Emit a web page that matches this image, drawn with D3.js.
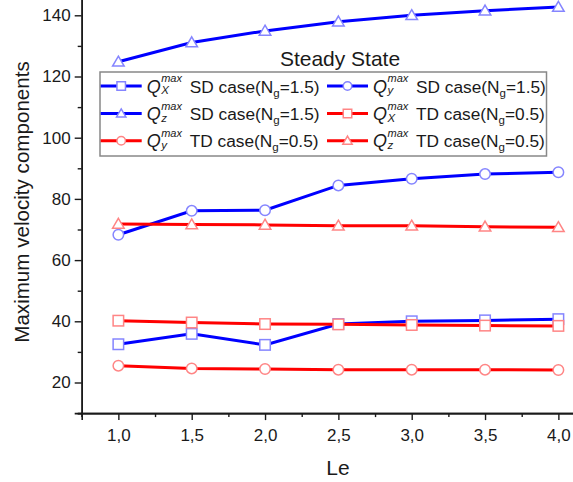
<!DOCTYPE html>
<html><head><meta charset="utf-8">
<script src="https://cdn.jsdelivr.net/npm/d3@7"></script>
<style>body{margin:0;background:#fff}svg{display:block}text{font-family:Arial,"Liberation Sans",sans-serif;fill:#1a1a1a}</style>
</head><body><svg id="c" width="573" height="482"></svg>
<script>
const le = [1.0, 1.5, 2.0, 2.5, 3.0, 3.5, 4.0];
const qxSD = [32.5, 35.9, 32.3, 39.1, 40.0, 40.3, 40.7];
const qySD = [68.3, 76.1, 76.3, 84.4, 86.6, 88.1, 88.7];
const qzSD = [124.8, 131.1, 134.9, 137.9, 140.0, 141.5, 142.7];
const qxTD = [40.2, 39.6, 39.1, 39.0, 38.8, 38.6, 38.5];
const qyTD = [25.5, 24.6, 24.4, 24.2, 24.2, 24.2, 24.1];
const qzTD = [71.8, 71.6, 71.5, 71.2, 71.2, 70.9, 70.7];
const xTicks = [1.0, 1.5, 2.0, 2.5, 3.0, 3.5, 4.0];
const xTickLabels = ["1,0", "1,5", "2,0", "2,5", "3,0", "3,5", "4,0"];
const yTicks = [20, 40, 60, 80, 100, 120, 140];
const seriesNames = ["X", "y", "z", "X", "y", "z"];
const seriesCase = ["SD case(N", "SD case(N", "SD case(N", "TD case(N", "TD case(N", "TD case(N"];
const seriesNg = ["=1.5)", "=1.5)", "=1.5)", "=0.5)", "=0.5)", "=0.5)"];
const seriesShape = ["square", "circle", "triangle", "square", "circle", "triangle"];
const seriesGroup = ["SD", "SD", "SD", "TD", "TD", "TD"];
const seriesData = [qxSD, qySD, qzSD, qxTD, qyTD, qzTD];

const svg = d3.select("#c");
const x = d3.scaleLinear().domain([0.75, 4.25]).range([81.7, 81.7 + 3.5 * 146.67]);
const y = d3.scaleLinear().domain([10, 150]).range([413.1, 413.1 - 140 * 3.06]);
const lineCol = {SD: "#0000ff", TD: "#ff0000"};
const markCol = {SD: "#8585ff", TD: "#ff8585"};

// axes
const gx = svg.append("g").attr("transform", `translate(0,${y(10)})`);
gx.call(d3.axisBottom(x).tickValues(xTicks).tickFormat((d, i) => xTickLabels[i]).tickSize(7).tickPadding(9));
gx.append("g").call(d3.axisBottom(x).tickValues([0.75,1.25,1.75,2.25,2.75,3.25,3.75,4.25]).tickFormat("").tickSize(4));
const gy = svg.append("g").attr("transform", `translate(${x(0.75)},0)`);
gy.call(d3.axisLeft(y).tickValues(yTicks).tickSize(7).tickPadding(4));
gy.append("g").call(d3.axisLeft(y).tickValues([10,30,50,70,90,110,130,150]).tickFormat("").tickSize(4));
svg.selectAll(".domain").attr("stroke", "#1a1a1a").attr("stroke-width", 1.6);
svg.selectAll(".tick line").attr("stroke", "#1a1a1a").attr("stroke-width", 1.4);
svg.selectAll(".tick text").attr("font-size", 17).attr("fill", "#1a1a1a").attr("font-family", "Arial, 'Liberation Sans', sans-serif");

// axis titles
svg.append("text").attr("x", 338).attr("y", 475).attr("text-anchor", "middle").attr("font-size", 21).text("Le");
svg.append("text").attr("transform", "translate(29,202) rotate(-90)").attr("text-anchor", "middle").attr("font-size", 20.6).text("Maximum velocity components");

// markers
function marker(g, shape, cx, cy, s, col) {
  if (shape === "square") g.append("rect").attr("x", cx - s/2).attr("y", cy - s/2).attr("width", s).attr("height", s).attr("fill", "#fff").attr("stroke", col).attr("stroke-width", 1.5);
  else if (shape === "circle") g.append("circle").attr("cx", cx).attr("cy", cy).attr("r", s/2).attr("fill", "#fff").attr("stroke", col).attr("stroke-width", 1.5);
  else {
    const h = s * 0.9;
    g.append("path").attr("d", `M${cx},${cy - h*0.6}L${cx + s*0.55},${cy + h*0.45}L${cx - s*0.55},${cy + h*0.45}Z`).attr("fill", "#fff").attr("stroke", col).attr("stroke-width", 1.5);
  }
}

const plot = svg.append("g");
const line = d3.line().x((d, i) => x(le[i])).y(d => y(d));
seriesData.forEach((data, k) => {
  const grp = seriesGroup[k];
  const g = plot.append("g");
  g.append("path").attr("d", line(data)).attr("fill", "none").attr("stroke", lineCol[grp]).attr("stroke-width", 3);
  data.forEach((v, i) => marker(g, seriesShape[k], x(le[i]), y(v), 10.5, markCol[grp]));
});

// legend
svg.append("text").attr("x", 340).attr("y", 66).attr("text-anchor", "middle").attr("font-size", 21).text("Steady State");
const lg = svg.append("g");
lg.append("rect").attr("x", 100).attr("y", 72).attr("width", 446.5).attr("height", 84).attr("fill", "#fff").attr("stroke", "#888").attr("stroke-width", 1.5);
const rowY = [92.5, 120, 147.2];
const colX = [100.7, 327];
seriesData.forEach((data, k) => {
  const col = k % 2, row = Math.floor(k / 2);
  const x0 = colX[col], by = rowY[row], cy = by - 6.5;
  const grp = seriesGroup[k];
  lg.append("line").attr("x1", x0).attr("x2", x0 + 41).attr("y1", cy).attr("y2", cy).attr("stroke", lineCol[grp]).attr("stroke-width", 3);
  marker(lg, seriesShape[k], x0 + 20.5, cy, 8.5, markCol[grp]);
  const tx = x0 + 46;
  const q = lg.append("text").attr("x", tx).attr("y", by).attr("font-size", 18).attr("font-style", "italic").text("Q");
  const qW = q.node().getComputedTextLength();
  lg.append("text").attr("x", tx + qW + 0.5).attr("y", by - 10.5).attr("font-size", 11).attr("font-style", "italic").text("max");
  lg.append("text").attr("x", tx + qW + 0.5).attr("y", by + 1.5).attr("font-size", 11.5).attr("font-style", "italic").text(seriesNames[k]);
  const t = lg.append("text").attr("x", x0 + 89).attr("y", by).attr("font-size", 17.3);
  t.append("tspan").text(seriesCase[k]);
  t.append("tspan").attr("font-size", 11.5).attr("dy", 4).text("g");
  t.append("tspan").attr("dy", -4).text(seriesNg[k]);
});
</script></body></html>
